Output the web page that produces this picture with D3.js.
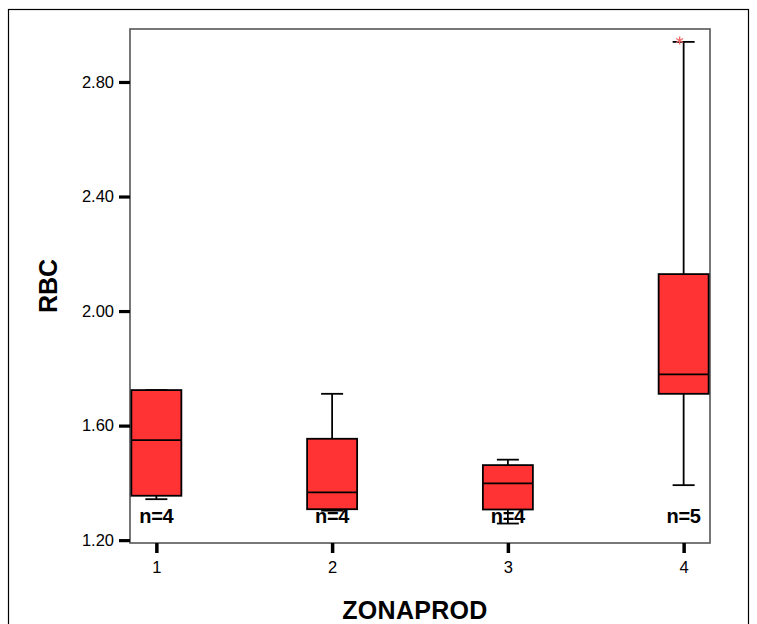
<!DOCTYPE html>
<html>
<head>
<meta charset="utf-8">
<script src="https://cdn.jsdelivr.net/npm/d3@7"></script>
<style>
  html, body { margin: 0; padding: 0; background: #fff; }
  svg { display: block; font-family: "Liberation Sans", Arial, sans-serif; }
</style>
</head>
<body>
<svg id="chart" width="757" height="624"></svg>
<script>
// ---- data ----
const groups  = ["1", "2", "3", "4"];
const mins    = [1.343, 1.303, 1.258, 1.392];
const q1s     = [1.355, 1.308, 1.307, 1.711];
const medians = [1.549, 1.367, 1.398, 1.779];
const q3s     = [1.724, 1.554, 1.462, 2.129];
const maxs    = [1.724, 1.711, 1.481, 2.940];
const counts  = [4, 4, 4, 5];
const extremeGroups = ["4"];
const extremeValues = [2.945];
const yTicks  = [1.20, 1.60, 2.00, 2.40, 2.80];
const xTitle = "ZONAPROD";
const yTitle = "RBC";

// ---- layout ----
const svg = d3.select("#chart");
const frame = { left: 130, top: 29, right: 710, bottom: 543 };

svg.append("rect")
  .attr("x", 8.5).attr("y", 9.5)
  .attr("width", 740).attr("height", 700)
  .attr("fill", "none").attr("stroke", "#000").attr("stroke-width", 1.2);

const x = d3.scalePoint().domain(groups).range([frame.left, frame.right]).padding(0.15);
const y = d3.scaleLinear().domain([1.19, 2.985]).range([frame.bottom, frame.top]);

// frame
svg.append("rect")
  .attr("x", frame.left).attr("y", frame.top)
  .attr("width", frame.right - frame.left).attr("height", frame.bottom - frame.top)
  .attr("fill", "#fff").attr("stroke", "#555").attr("stroke-width", 1.6);

// axes
const yAxis = svg.append("g")
  .attr("transform", `translate(${frame.left},0)`)
  .call(d3.axisLeft(y).tickValues(yTicks).tickFormat(d3.format(".2f")).tickSize(11).tickPadding(5));
yAxis.select(".domain").remove();
yAxis.selectAll(".tick line").attr("stroke", "#000").attr("stroke-width", 3.2);
yAxis.selectAll(".tick text").attr("font-size", "16.5px").attr("fill", "#000")
  .attr("font-family", "'Liberation Sans', Arial, sans-serif");

const xAxis = svg.append("g")
  .attr("transform", `translate(0,${frame.bottom})`)
  .call(d3.axisBottom(x).tickSize(10).tickPadding(8));
xAxis.select(".domain").remove();
xAxis.selectAll(".tick line").attr("stroke", "#000").attr("stroke-width", 3.5);
xAxis.selectAll(".tick text").attr("font-size", "16.5px").attr("fill", "#000")
  .attr("font-family", "'Liberation Sans', Arial, sans-serif");

// boxes
const boxW = 50, capW = 22;
const data = groups.map((g, i) => ({
  g, min: mins[i], q1: q1s[i], med: medians[i], q3: q3s[i], max: maxs[i], n: counts[i]
}));

const bx = svg.append("g");
data.forEach(d => {
  const cx = x(d.g);
  const gg = bx.append("g");
  gg.append("line").attr("x1", cx).attr("x2", cx).attr("y1", y(d.q3)).attr("y2", y(d.max))
    .attr("stroke", "#000").attr("stroke-width", 1.8);
  gg.append("line").attr("x1", cx).attr("x2", cx).attr("y1", y(d.q1)).attr("y2", y(d.min))
    .attr("stroke", "#000").attr("stroke-width", 1.8);
  gg.append("line").attr("x1", cx - capW / 2).attr("x2", cx + capW / 2).attr("y1", y(d.max)).attr("y2", y(d.max))
    .attr("stroke", "#000").attr("stroke-width", 1.8);
  gg.append("line").attr("x1", cx - capW / 2).attr("x2", cx + capW / 2).attr("y1", y(d.min)).attr("y2", y(d.min))
    .attr("stroke", "#000").attr("stroke-width", 1.8);
  gg.append("rect").attr("x", cx - boxW / 2).attr("y", y(d.q3))
    .attr("width", boxW).attr("height", y(d.q1) - y(d.q3))
    .attr("fill", "#ff3333").attr("stroke", "#000").attr("stroke-width", 1.8);
  gg.append("line").attr("x1", cx - boxW / 2).attr("x2", cx + boxW / 2).attr("y1", y(d.med)).attr("y2", y(d.med))
    .attr("stroke", "#000").attr("stroke-width", 1.8);
});

// n labels
svg.append("g").selectAll("text").data(data).join("text")
  .attr("x", d => x(d.g)).attr("y", y(1.2) - 17)
  .attr("text-anchor", "middle")
  .attr("font-size", "20px").attr("font-weight", "bold").attr("fill", "#000")
  .attr("letter-spacing", "-0.3px")
  .text(d => "n=" + d.n);

// extreme marker
svg.append("g").selectAll("path").data(extremeGroups.map((g, i) => ({ g, v: extremeValues[i] })))
  .join("path")
  .attr("transform", d => `translate(${x(d.g) - 4},${y(d.v)})`)
  .attr("d", d3.symbol().type(d3.symbolAsterisk || d3.symbolTimes).size(45)())
  .attr("fill", "none").attr("stroke", "#f06666").attr("stroke-width", 1.3);

// titles
svg.append("text")
  .attr("x", (frame.left + frame.right) / 2 - 5).attr("y", 619)
  .attr("text-anchor", "middle")
  .attr("font-size", "25px").attr("font-weight", "bold").attr("fill", "#000")
  .attr("letter-spacing", "0.3px")
  .text(xTitle);

svg.append("text")
  .attr("transform", `translate(57,${286}) rotate(-90)`)
  .attr("text-anchor", "middle")
  .attr("font-size", "25px").attr("font-weight", "bold").attr("fill", "#000")
  .text(yTitle);
</script>
</body>
</html>
